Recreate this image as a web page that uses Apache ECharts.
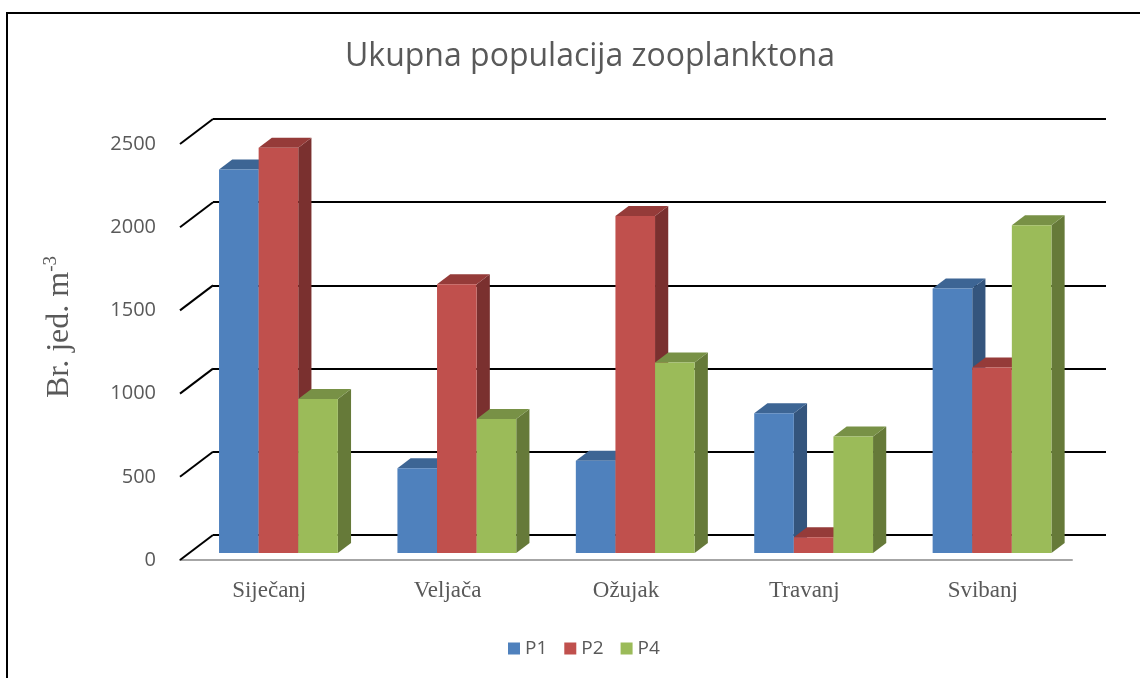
<!DOCTYPE html>
<html>
<head>
<meta charset="utf-8">
<script src="https://cdn.jsdelivr.net/npm/echarts@6/dist/echarts.min.js"></script>
<style>
  html, body { margin: 0; padding: 0; background: #fff; }
  #main { width: 1145px; height: 678px; }
</style>
</head>
<body>
<div id="main"></div>
<script>
// podaci
let months = ['Siječanj', 'Veljača', 'Ožujak', 'Travanj', 'Svibanj'];
let p1 = [2305, 510, 555, 840, 1590];
let p2 = [2435, 1615, 2025, 95, 1115];
let p4 = [925, 805, 1145, 700, 1970];
let yTicks = [0, 500, 1000, 1500, 2000, 2500];

// 3D pomak (pikseli) za punu dubinu poda
const DX = 33, DY = 25;
const D0 = 0.28, D1 = 0.68; // dubina prednje i straznje strane stupca

let colors = [
    { front: '#4f81bd', top: '#3d6594', side: '#34557d' },
    { front: '#c0504d', top: '#953b39', side: '#7a302f' },
    { front: '#9bbb59', top: '#789146', side: '#667a39' }
];

function barRender(k) {
    return function (params, api) {
        let cat = api.value(0);
        let v = api.value(1);
        let band = api.size([1, 0])[0];
        let bw = band * 0.222;
        let c = api.coord([cat, v]);
        let b = api.coord([cat, 0]);
        let fx = c[0] - 1.5 * bw + k * bw + DX * D0;
        let top = c[1] - DY * D0;
        let bot = b[1] - DY * D0;
        let sx = DX * (D1 - D0), sy = DY * (D1 - D0);
        let col = colors[k];
        return {
            type: 'group',
            children: [
                {
                    type: 'polygon',
                    shape: { points: [[fx + bw, top], [fx + bw + sx, top - sy], [fx + bw + sx, bot - sy], [fx + bw, bot]] },
                    style: { fill: col.side }
                },
                {
                    type: 'polygon',
                    shape: { points: [[fx, top], [fx + sx, top - sy], [fx + bw + sx, top - sy], [fx + bw, top]] },
                    style: { fill: col.top }
                },
                {
                    type: 'rect',
                    shape: { x: fx, y: top, width: bw, height: bot - top },
                    style: { fill: col.front }
                }
            ]
        };
    };
}

function diagRender(params, api) {
    let p = api.coord([0, api.value(1)]);
    let band = api.size([1, 0])[0];
    let x0 = p[0] - band / 2;
    return {
        type: 'line',
        shape: { x1: x0, y1: p[1], x2: x0 + DX, y2: p[1] - DY },
        style: { stroke: '#000', lineWidth: 2 }
    };
}

let chart = echarts.init(document.getElementById('main'));
let option = {
    backgroundColor: '#fff',
    animation: false,
    title: {
        text: 'Ukupna populacija zooplanktona',
        left: 340,
        top: 36,
        textStyle: { fontFamily: 'Open Sans', fontSize: 32, fontWeight: 'normal', color: '#595959' }
    },
    legend: {
        data: ['P1', 'P2', 'P4'],
        left: 503,
        top: 634,
        icon: 'rect',
        itemWidth: 12,
        itemHeight: 12,
        itemGap: 17,
        textStyle: { fontFamily: 'Open Sans', fontSize: 19, color: '#595959' }
    },
    graphic: [
        { type: 'line', shape: { x1: 6, y1: 13, x2: 1140, y2: 13 }, style: { stroke: '#000', lineWidth: 2 } },
        { type: 'line', shape: { x1: 7, y1: 12, x2: 7, y2: 678 }, style: { stroke: '#000', lineWidth: 2 } }
    ],
    grid: [
        // prednja ravnina
        { left: 180, right: 73, top: 144, bottom: 118 },
        // straznji zid
        { left: 213, right: 39, top: 119, bottom: 143 }
    ],
    xAxis: [
        {
            type: 'category',
            gridIndex: 0,
            data: months,
            axisLine: { lineStyle: { color: '#a6a6a6', width: 2 } },
            axisTick: { show: false },
            axisLabel: { fontFamily: 'Liberation Serif', fontSize: 23, color: '#595959', margin: 19 }
        },
        {
            type: 'value',
            gridIndex: 1,
            show: false,
            splitLine: { show: false }
        }
    ],
    yAxis: [
        {
            type: 'value',
            gridIndex: 0,
            min: 0,
            max: 2500,
            interval: 500,
            axisLine: { show: false },
            axisTick: { show: false },
            splitLine: { show: false },
            axisLabel: {
                fontFamily: 'Open Sans', fontSize: 20, color: '#595959', margin: 24,
                formatter: v => String(v)
            }
        },
        {
            type: 'value',
            gridIndex: 1,
            min: 0,
            max: 2500,
            interval: 500,
            axisLine: { show: false },
            axisTick: { show: false },
            axisLabel: { show: false },
            splitLine: { lineStyle: { color: '#000', width: 2 } },
            name: '{a|Br. jed. m}{b|-3}',
            nameLocation: 'middle',
            nameRotate: 90,
            nameGap: 135,
            nameTextStyle: {
                rich: {
                    a: { fontFamily: 'Liberation Serif', fontSize: 32, color: '#595959', lineHeight: 36 },
                    b: { fontFamily: 'Liberation Serif', fontSize: 19, color: '#595959', verticalAlign: 'top' }
                }
            }
        }
    ],
    series: [
        {
            name: 'grid-diag',
            type: 'custom',
            xAxisIndex: 0,
            yAxisIndex: 0,
            renderItem: diagRender,
            data: yTicks.map(v => [0, v]),
            silent: true
        },
        {
            name: 'P1', type: 'custom', xAxisIndex: 0, yAxisIndex: 0,
            itemStyle: { color: colors[0].front },
            renderItem: barRender(0),
            data: p1.map((v, i) => [i, v])
        },
        {
            name: 'P2', type: 'custom', xAxisIndex: 0, yAxisIndex: 0,
            itemStyle: { color: colors[1].front },
            renderItem: barRender(1),
            data: p2.map((v, i) => [i, v])
        },
        {
            name: 'P4', type: 'custom', xAxisIndex: 0, yAxisIndex: 0,
            itemStyle: { color: colors[2].front },
            renderItem: barRender(2),
            data: p4.map((v, i) => [i, v])
        }
    ]
};
chart.setOption(option);
</script>
</body>
</html>
